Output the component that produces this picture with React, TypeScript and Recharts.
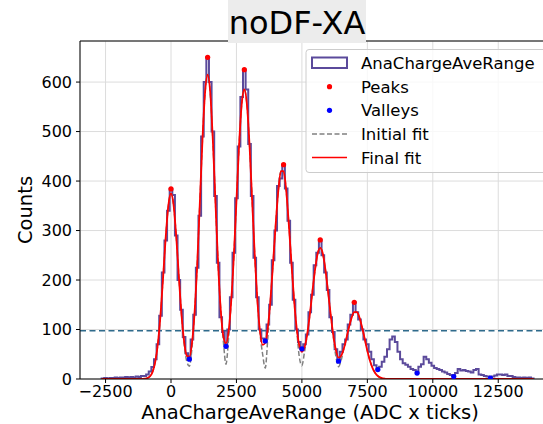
import { ComposedChart, Line, Scatter, XAxis, YAxis, CartesianGrid, ReferenceLine } from 'recharts';

// histogram: 100-wide bins, first bin starts at -2650
const BIN_START = -2650;
const BIN_WIDTH = 100;
const COUNTS = [
  1, 2, 1, 2, 2, 3, 2, 3, 3, 4, 3, 4, 3, 5, 4, 6, 6, 9, 15, 24,
  40, 70, 128, 215, 280, 340, 384, 372, 290, 200, 140, 85, 52, 40, 80, 130, 225, 330, 490, 600,
  650, 600, 500, 370, 235, 125, 95, 66, 100, 165, 255, 365, 470, 570, 625, 585, 475, 370, 245, 165,
  100, 82, 77, 110, 150, 240, 300, 390, 405, 433, 385, 320, 235, 160, 100, 75, 61, 70, 90, 135,
  170, 230, 255, 281, 250, 215, 180, 125, 95, 60, 36, 55, 70, 80, 110, 130, 155, 135, 120, 100,
  80, 70, 55, 40, 28, 19, 25, 35, 45, 60, 80, 86, 75, 55, 40, 32, 29, 25, 20, 18,
  12, 25, 30, 45, 40, 33, 27, 22, 20, 18, 15, 13, 10, 8, 5, 12, 20, 17, 18, 16,
  15, 13, 18, 20, 9, 8, 6, 5, 2, 5, 7, 9, 9, 8, 9, 6, 6, 4, 3, 3,
  2, 3, 2, 3, 1,
];

const PEAK_X = [0, 1400, 2800, 4300, 5700, 7000];
const PEAK_Y = [384, 650, 625, 433, 281, 155];
const VALLEY_X = [700, 2100, 3600, 5000, 6400, 7900, 9400, 10800, 12200];
const VALLEY_Y = [40, 66, 77, 61, 36, 19, 12, 5, 2];

const FIT_X = [
  -2650, -1300, -1200, -1100, -1000, -900, -800, -700, -600, -500, -400, -300, -200, -100, 0,
  100, 200, 300, 400, 500, 600, 700, 800, 900, 1000, 1100, 1200, 1300, 1400, 1500,
  1600, 1700, 1800, 1900, 2000, 2100, 2200, 2300, 2400, 2500, 2600, 2700, 2800, 2900, 3000,
  3100, 3200, 3300, 3400, 3500, 3600, 3700, 3800, 3900, 4000, 4100, 4200, 4300, 4400, 4500,
  4600, 4700, 4800, 4900, 5000, 5100, 5200, 5300, 5400, 5500, 5600, 5700, 5800, 5900, 6000,
  6100, 6200, 6300, 6400, 6500, 6600, 6700, 6800, 6900, 7000, 7100, 7200, 7300, 7400, 7500,
  7600, 7700, 7800, 7900, 8000, 8100, 8200, 8300, 13850,
];
const FINAL_FIT = [
  0, 0, 0.1, 0.3, 0.8, 2, 5.5, 15, 35, 72, 130, 207, 288, 351, 375,
  351, 288, 207, 131, 76, 47, 45, 72, 134, 230, 354, 481, 578, 615, 578,
  481, 355, 232, 140, 86, 72, 96, 157, 248, 360, 472, 555, 585, 555, 472,
  361, 249, 158, 96, 69, 73, 104, 161, 235, 313, 381, 420, 420, 381, 313,
  235, 161, 103, 68, 55, 64, 89, 129, 176, 220, 253, 265, 253, 220, 176,
  130, 88, 58, 43, 47, 61, 82, 105, 124, 135, 135, 124, 104, 81, 57,
  37, 22, 12, 6, 2.7, 1.2, 0.4, 0, 0,
];
const INITIAL_FIT = [
  0, 0, 0.1, 0.3, 0.8, 2, 5.5, 15, 35, 72, 130, 207, 288, 351, 375,
  351, 288, 207, 131, 72, 36, 26, 62, 134, 230, 354, 481, 578, 615, 578,
  481, 355, 232, 140, 76, 30, 82, 157, 248, 360, 472, 555, 585, 555, 472,
  361, 249, 158, 92, 50, 22, 85, 161, 235, 313, 381, 420, 420, 381, 313,
  235, 161, 100, 45, 27, 55, 89, 129, 176, 220, 253, 265, 253, 220, 176,
  130, 85, 45, 25, 38, 61, 82, 105, 124, 135, 135, 124, 104, 81, 57,
  37, 22, 12, 6, 2.7, 1.2, 0.4, 0, 0,
];

const THRESHOLD = 97.5;
const X_TICKS = [-2500, 0, 2500, 5000, 7500, 10000, 12500];
const Y_TICKS = [0, 100, 200, 300, 400, 500, 600];
const X_DOMAIN = [-3476, 14706];
const Y_MAX = 683;

const HIST_COLOR = '#5b4a9b';
const FONT = 'DejaVu Sans, sans-serif';

const histData = [
  { x: BIN_START, y: 0 },
  ...COUNTS.map((c, i) => ({ x: BIN_START + i * BIN_WIDTH, y: c })),
  { x: BIN_START + COUNTS.length * BIN_WIDTH, y: COUNTS[COUNTS.length - 1] },
  { x: BIN_START + COUNTS.length * BIN_WIDTH, y: 0 },
];
const finalFit = FIT_X.map((x, i) => ({ x, y: FINAL_FIT[i] }));
const initialFit = FIT_X.map((x, i) => ({ x, y: INITIAL_FIT[i] }));
const peaks = PEAK_X.map((x, i) => ({ x, y: PEAK_Y[i] }));
const valleys = VALLEY_X.map((x, i) => ({ x, y: VALLEY_Y[i] }));

const fmt = (v: number) => (v < 0 ? '\u2212' + Math.abs(v) : String(v));

const dot = (color: string) => (p: any) => <circle cx={p.cx} cy={p.cy} r={2.6} fill={color} />;

function Legend() {
  const rows = [62.7, 86.7, 110.3, 134, 157.5];
  const labels = ['AnaChargeAveRange', 'Peaks', 'Valleys', 'Initial fit', 'Final fit'];
  return (
    <g>
      <rect x={306} y={49.5} width={262} height={123} rx={3} fill="#fff" fillOpacity={0.8} stroke="#cccccc" />
      <rect x={312} y={57.5} width={35} height={10.5} fill="none" stroke={HIST_COLOR} strokeWidth={2} />
      <circle cx={329.5} cy={rows[1]} r={2.6} fill="red" />
      <circle cx={329.5} cy={rows[2]} r={2.6} fill="blue" />
      <line x1={312} x2={347} y1={rows[3]} y2={rows[3]} stroke="gray" strokeWidth={1.5} strokeDasharray="5 2.5" />
      <line x1={312} x2={347} y1={rows[4]} y2={rows[4]} stroke="red" strokeWidth={1.5} />
      {labels.map((l, i) => (
        <text key={l} x={361} y={rows[i] + 6} fontSize={16.5} fontFamily={FONT} fill="#000">
          {l}
        </text>
      ))}
    </g>
  );
}

export default function App() {
  return (
    <div style={{ position: 'fixed', left: 0, top: 0, width: 543, height: 424, overflow: 'hidden', background: '#fff' }}>
      <ComposedChart width={560} height={424} margin={{ top: 41, right: 4, left: 0, bottom: 0 }}>
        <CartesianGrid stroke="#dcdcdc" strokeWidth={1} />
        <XAxis
          dataKey="x"
          type="number"
          domain={X_DOMAIN}
          ticks={X_TICKS}
          allowDataOverflow
          height={45}
          tickFormatter={fmt}
          tick={{ fill: '#000', fontSize: 16, fontFamily: FONT }}
          tickLine={{ stroke: '#000' }}
          axisLine={{ stroke: '#000' }}
          tickSize={4}
          tickMargin={3}
        />
        <YAxis
          dataKey="y"
          type="number"
          domain={[0, Y_MAX]}
          ticks={Y_TICKS}
          allowDataOverflow
          width={80}
          tick={{ fill: '#000', fontSize: 16, fontFamily: FONT }}
          tickLine={{ stroke: '#000' }}
          axisLine={{ stroke: '#000' }}
          tickSize={4}
          tickMargin={4}
        />
        <ReferenceLine y={Y_MAX} stroke="#000" strokeWidth={1} />
        <ReferenceLine y={THRESHOLD} stroke="#2f6b8c" strokeWidth={1.5} strokeDasharray="6 3.5" />
        <Line data={histData} dataKey="y" type="stepAfter" stroke={HIST_COLOR} strokeWidth={2} dot={false} isAnimationActive={false} />
        <Line data={initialFit} dataKey="y" type="monotone" stroke="gray" strokeWidth={1.5} strokeDasharray="5 2.5" dot={false} isAnimationActive={false} />
        <Line data={finalFit} dataKey="y" type="monotone" stroke="red" strokeWidth={1.8} dot={false} isAnimationActive={false} />
        <Scatter data={peaks} dataKey="y" shape={dot('red')} isAnimationActive={false} />
        <Scatter data={valleys} dataKey="y" shape={dot('blue')} isAnimationActive={false} />
      </ComposedChart>
      <svg width={543} height={424} style={{ position: 'absolute', left: 0, top: 0, pointerEvents: 'none' }}>
        <Legend />
        <rect x={228} y={0} width={138} height={43} fill="#ececec" />
        <text x={297} y={34} textAnchor="middle" fontSize={32} fontFamily={FONT} fill="#000">
          noDF-XA
        </text>
        <text x={25} y={210} transform="rotate(-90 25 210)" textAnchor="middle" dominantBaseline="central" fontSize={19.5} fontFamily={FONT} fill="#000">
          Counts
        </text>
        <text x={310} y={419} textAnchor="middle" fontSize={19.5} fontFamily={FONT} fill="#000">
          AnaChargeAveRange (ADC x ticks)
        </text>
      </svg>
    </div>
  );
}
